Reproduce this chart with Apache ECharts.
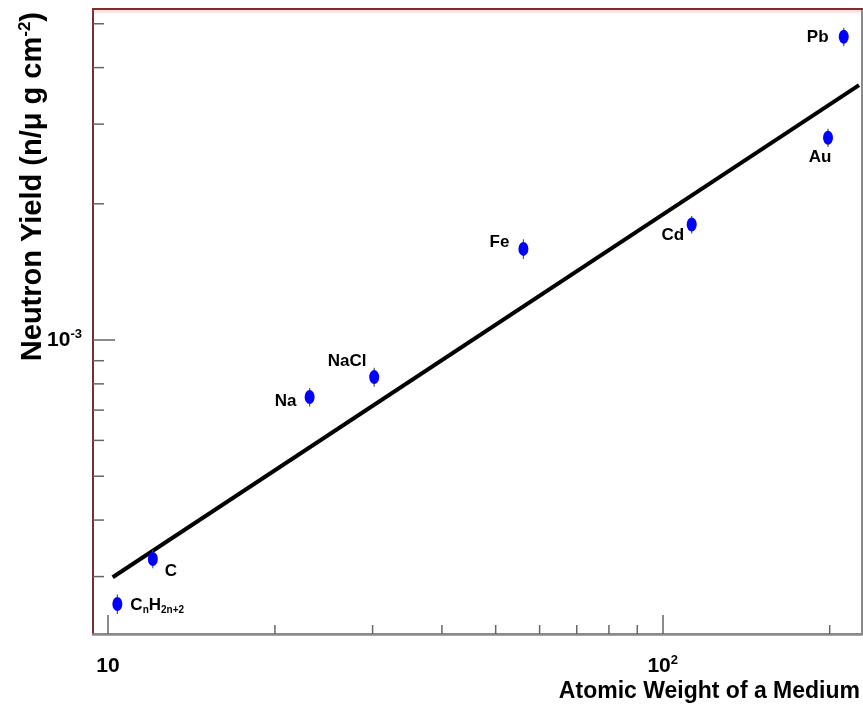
<!DOCTYPE html>
<html>
<head>
<meta charset="utf-8">
<script src="https://cdn.jsdelivr.net/npm/echarts@6/dist/echarts.min.js"></script>
<style>
  html, body { margin: 0; padding: 0; background: #fff; }
  #chart { width: 863px; height: 712px; }
</style>
</head>
<body>
<div id="chart"></div>
<script>
// Measured neutron yield per muon versus atomic weight of the target medium
const elements = ['CnH2n+2', 'C', 'Na', 'NaCl', 'Fe', 'Cd', 'Au', 'Pb'];
const atomicWeight = [10.4, 12.05, 23.1, 30.2, 56.1, 112.8, 198.6, 212];
const neutronYield = [2.61e-4, 3.28e-4, 7.48e-4, 8.28e-4, 1.59e-3, 1.80e-3, 2.80e-3, 4.68e-3];
const yieldError = [0.13e-4, 0.15e-4, 0.35e-4, 0.40e-4, 0.08e-3, 0.08e-3, 0.13e-3, 0.22e-3];

// Power-law fit drawn as a straight line on log-log axes
const fitX = [10.2, 225.9];
const fitY = [2.99e-4, 3.66e-3];

// Axis ranges and minor tick values
const xRange = [9.4, 228.7];
const yRange = [2.24e-4, 5.39e-3];
const xMinorTicks = [20, 30, 40, 50, 60, 70, 80, 90, 200];
const yMinorTicks = [3e-4, 4e-4, 5e-4, 6e-4, 7e-4, 8e-4, 9e-4, 2e-3, 3e-3, 4e-3, 5e-3];

const FONT = 'Liberation Sans, Arial, Helvetica, sans-serif';
const FRAME_RED = '#7a2e2e';
const FRAME_GRAY = '#8a8a8a';
const TICK_COLOR = '#666';
const INK = '#000';

// Label placement (offset from marker centre) for each element
const labelPlacement = {
  'CnH2n+2': { offset: [13, 1], align: 'left' },
  'C': { offset: [18, 12] },
  'Na': { offset: [-24, 4] },
  'NaCl': { offset: [-27, -16] },
  'Fe': { offset: [-24, -7] },
  'Cd': { offset: [-19, 11] },
  'Au': { offset: [-8, 20] },
  'Pb': { offset: [-26, 1] }
};

function labelText(name) {
  if (name === 'CnH2n+2') return '{m|C}{s|n}{m|H}{s|2n+2}';
  return '{m|' + name + '}';
}

const pointData = elements.map((name, i) => {
  const p = labelPlacement[name];
  return {
    name: name,
    value: [atomicWeight[i], neutronYield[i]],
    label: Object.assign({ formatter: labelText(name) }, p)
  };
});

const errorData = elements.map((name, i) => [
  atomicWeight[i],
  neutronYield[i] - yieldError[i],
  neutronYield[i] + yieldError[i]
]);

function powerLabel(value) {
  const e = Math.round(Math.log10(value));
  if (e === 1) return '{b|10}';
  return '{b|10}{sup|' + e + '}';
}

const tickRich = {
  b: { fontSize: 21, fontWeight: 'bold', fontFamily: FONT, color: INK, lineHeight: 24 },
  sup: { fontSize: 13, fontWeight: 'bold', fontFamily: FONT, color: INK, lineHeight: 13, verticalAlign: 'top' }
};

const chart = echarts.init(document.getElementById('chart'));

chart.setOption({
  animation: false,
  backgroundColor: '#fff',
  grid: {
    left: 93, right: 1, top: 9, bottom: 78,
    show: true, borderColor: FRAME_GRAY, borderWidth: 2
  },
  xAxis: [
    {
      type: 'log', logBase: 10, min: xRange[0], max: xRange[1],
      axisLine: { show: true, lineStyle: { color: FRAME_GRAY, width: 2.5 } },
      axisTick: { show: true, inside: true, length: 19, lineStyle: { color: TICK_COLOR, width: 1.5 } },
      axisLabel: {
        show: true, margin: 20, showMinLabel: false, showMaxLabel: false,
        formatter: powerLabel, rich: tickRich
      },
      splitLine: { show: false },
      minorTick: { show: false }
    },
    {
      type: 'log', logBase: 10, min: xRange[0], max: xRange[1], position: 'top',
      axisLine: {
        show: true,
        lineStyle: { color: FRAME_RED, width: 2, shadowColor: 'rgba(230,120,120,0.45)', shadowBlur: 3, shadowOffsetY: 2 }
      },
      axisTick: { show: false }, axisLabel: { show: false }, splitLine: { show: false }
    }
  ],
  yAxis: [
    {
      type: 'log', logBase: 10, min: yRange[0], max: yRange[1],
      axisLine: { show: true, lineStyle: { color: FRAME_RED, width: 2 } },
      axisTick: { show: true, inside: true, length: 22, lineStyle: { color: TICK_COLOR, width: 1.5 } },
      axisLabel: {
        show: true, margin: 11, showMinLabel: false, showMaxLabel: false,
        formatter: powerLabel, rich: tickRich
      },
      splitLine: { show: false },
      minorTick: { show: false }
    },
    {
      type: 'log', logBase: 10, min: yRange[0], max: yRange[1], position: 'right',
      axisLine: { show: true, lineStyle: { color: FRAME_GRAY, width: 2 } },
      axisTick: { show: false }, axisLabel: { show: false }, splitLine: { show: false }
    }
  ],
  graphic: [
    {
      type: 'text', x: 33, y: 12, rotation: Math.PI / 2,
      style: {
        text: '{t|Neutron Yield (n/μ g cm}{s|-2}{t|)}',
        align: 'right', textAlign: 'right',
        verticalAlign: 'middle', textVerticalAlign: 'middle',
        rich: {
          t: { fontSize: 29, fontWeight: 'bold', fontFamily: FONT, fill: INK, color: INK, lineHeight: 32 },
          s: { fontSize: 17, fontWeight: 'bold', fontFamily: FONT, fill: INK, color: INK, lineHeight: 17, verticalAlign: 'top' }
        }
      }
    },
    {
      type: 'text', x: 860, y: 692,
      style: {
        text: 'Atomic Weight of a Medium',
        align: 'right', textAlign: 'right',
        verticalAlign: 'middle', textVerticalAlign: 'middle',
        font: 'bold 23px ' + FONT, fill: INK
      }
    }
  ],
  series: [
    {
      // minor ticks along the bottom axis
      type: 'custom', xAxisIndex: 0, yAxisIndex: 0, silent: true, z: 5,
      data: xMinorTicks.map(v => [v, yRange[0]]),
      renderItem: function (params, api) {
        const p = api.coord([api.value(0), api.value(1)]);
        return {
          type: 'line',
          shape: { x1: p[0], y1: p[1], x2: p[0], y2: p[1] - 9 },
          style: { stroke: TICK_COLOR, lineWidth: 1.5 }
        };
      }
    },
    {
      // minor ticks along the left axis
      type: 'custom', xAxisIndex: 0, yAxisIndex: 0, silent: true, z: 5,
      data: yMinorTicks.map(v => [xRange[0], v]),
      renderItem: function (params, api) {
        const p = api.coord([api.value(0), api.value(1)]);
        return {
          type: 'line',
          shape: { x1: p[0], y1: p[1], x2: p[0] + 11, y2: p[1] },
          style: { stroke: TICK_COLOR, lineWidth: 1.5 }
        };
      }
    },
    {
      // fitted power law
      type: 'line', xAxisIndex: 0, yAxisIndex: 0, silent: true, z: 3,
      data: [[fitX[0], fitY[0]], [fitX[1], fitY[1]]],
      symbol: 'none',
      lineStyle: { color: '#000', width: 4 }
    },
    {
      // vertical error bars
      type: 'custom', xAxisIndex: 0, yAxisIndex: 0, silent: true, z: 4,
      data: errorData,
      renderItem: function (params, api) {
        const lo = api.coord([api.value(0), api.value(1)]);
        const hi = api.coord([api.value(0), api.value(2)]);
        return {
          type: 'line',
          shape: { x1: lo[0], y1: lo[1], x2: hi[0], y2: hi[1] },
          style: { stroke: '#555', lineWidth: 1.2 }
        };
      }
    },
    {
      type: 'scatter', xAxisIndex: 0, yAxisIndex: 0, z: 6,
      data: pointData,
      symbol: 'circle',
      symbolSize: [10, 14],
      itemStyle: { color: '#0000ff', opacity: 1 },
      label: {
        show: true, position: 'inside', align: 'center', verticalAlign: 'middle',
        color: INK, textBorderWidth: 0, opacity: 1,
        rich: {
          m: { fontSize: 17, fontWeight: 'bold', fontFamily: FONT, color: INK, textBorderWidth: 0, lineHeight: 20 },
          s: { fontSize: 10, fontWeight: 'bold', fontFamily: FONT, color: INK, textBorderWidth: 0, lineHeight: 10, verticalAlign: 'bottom' }
        }
      }
    }
  ]
});
</script>
</body>
</html>
